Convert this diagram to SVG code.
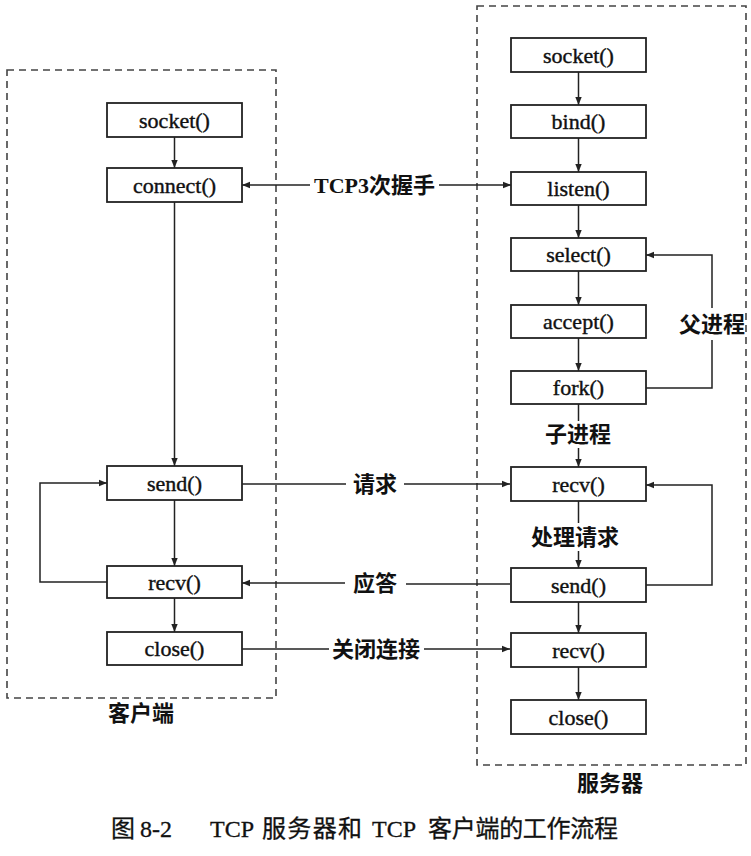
<svg xmlns="http://www.w3.org/2000/svg" width="751" height="856" viewBox="0 0 751 856">
<style>
.frame{fill:none;stroke:#444;stroke-width:1.6;stroke-dasharray:7 5}
.box{fill:#fff;stroke:#222;stroke-width:1.8}
.t{font-family:"Liberation Serif","Noto Sans CJK SC",serif;font-size:22px;fill:#111;stroke:#111;stroke-width:0.4;text-anchor:middle;dominant-baseline:central}
.lab{font-family:"Liberation Serif","Noto Sans CJK SC",serif;font-size:22px;font-weight:bold;fill:#111;text-anchor:middle;dominant-baseline:central}
.ln{fill:none;stroke:#222;stroke-width:1.5}
.arr{marker-end:url(#ah)}
.cap{font-family:"Liberation Serif","Noto Sans CJK SC",serif;font-size:24px;fill:#111;stroke:#111;stroke-width:0.3;dominant-baseline:central}
</style>
<defs>
<marker id="ah" viewBox="0 0 10 10" refX="10" refY="5" markerWidth="10" markerHeight="8" markerUnits="userSpaceOnUse" orient="auto">
<path d="M0,1 L10,5 L0,9 Z" fill="#222"/>
</marker>
</defs>

<g id="client-frame"><rect class="frame" x="7" y="70" width="269" height="628"/></g>
<g id="server-frame"><rect class="frame" x="477" y="6" width="269" height="759"/></g>

<g id="connectors">
<path class="ln arr" d="M174.5,137 V168"/>
<path class="ln arr" d="M174.5,202 V466"/>
<path class="ln arr" d="M174.5,500 V566"/>
<path class="ln arr" d="M174.5,598 V632"/>
<path class="ln arr" d="M107,582 H40 V483 H107"/>
<path class="ln arr" d="M578.5,72 V105"/>
<path class="ln arr" d="M578.5,138 V172"/>
<path class="ln arr" d="M578.5,205 V238"/>
<path class="ln arr" d="M578.5,271 V305"/>
<path class="ln arr" d="M578.5,338 V371"/>
<path class="ln" d="M578.5,404 V421"/>
<path class="ln arr" d="M578.5,448 V467"/>
<path class="ln" d="M578.5,501 V523"/>
<path class="ln arr" d="M578.5,551 V568"/>
<path class="ln arr" d="M578.5,602 V633"/>
<path class="ln arr" d="M578.5,667 V700"/>
<path class="ln" d="M646,388 H712 V340"/>
<path class="ln arr" d="M712,308 V255 H646"/>
<path class="ln arr" d="M646,585 H712 V485 H646"/>
<path class="ln arr" d="M310,185 H242"/>
<path class="ln arr" d="M439,185 H511"/>
<path class="ln" d="M242,484 H346"/>
<path class="ln arr" d="M404,484 H510"/>
<path class="ln" d="M510,584 H406"/>
<path class="ln arr" d="M345,583 H242"/>
<path class="ln" d="M242,649 H329"/>
<path class="ln arr" d="M424,649 H510"/>
</g>

<g id="c-socket"><rect class="box" x="107" y="103" width="135" height="34"/><text class="t" x="174.5" y="120">socket()</text></g>
<g id="c-connect"><rect class="box" x="107" y="168" width="135" height="34"/><text class="t" x="174.5" y="185">connect()</text></g>
<g id="c-send"><rect class="box" x="107" y="466" width="135" height="34"/><text class="t" x="174.5" y="483">send()</text></g>
<g id="c-recv"><rect class="box" x="107" y="566" width="135" height="32"/><text class="t" x="174.5" y="582">recv()</text></g>
<g id="c-close"><rect class="box" x="107" y="632" width="135" height="33"/><text class="t" x="174.5" y="648.5">close()</text></g>

<g id="s-socket"><rect class="box" x="511" y="38" width="135" height="34"/><text class="t" x="578.5" y="55">socket()</text></g>
<g id="s-bind"><rect class="box" x="511" y="105" width="135" height="33"/><text class="t" x="578.5" y="121.5">bind()</text></g>
<g id="s-listen"><rect class="box" x="511" y="172" width="135" height="33"/><text class="t" x="578.5" y="188.5">listen()</text></g>
<g id="s-select"><rect class="box" x="511" y="238" width="135" height="33"/><text class="t" x="578.5" y="254.5">select()</text></g>
<g id="s-accept"><rect class="box" x="511" y="305" width="135" height="33"/><text class="t" x="578.5" y="321.5">accept()</text></g>
<g id="s-fork"><rect class="box" x="511" y="371" width="135" height="33"/><text class="t" x="578.5" y="387.5">fork()</text></g>
<g id="s-recv"><rect class="box" x="511" y="467" width="135" height="34"/><text class="t" x="578.5" y="484">recv()</text></g>
<g id="s-send"><rect class="box" x="511" y="568" width="135" height="34"/><text class="t" x="578.5" y="585">send()</text></g>
<g id="s-recv2"><rect class="box" x="511" y="633" width="135" height="34"/><text class="t" x="578.5" y="650">recv()</text></g>
<g id="s-close"><rect class="box" x="511" y="700" width="135" height="34"/><text class="t" x="578.5" y="717">close()</text></g>

<g id="labels">
<text class="lab" x="374.5" y="185">TCP3次握手</text>
<text class="lab" x="712" y="324">父进程</text>
<text class="lab" x="578" y="434">子进程</text>
<text class="lab" x="575" y="537">处理请求</text>
<text class="lab" x="375" y="484">请求</text>
<text class="lab" x="375" y="583">应答</text>
<text class="lab" x="376" y="649">关闭连接</text>
<text class="lab" x="141" y="713">客户端</text>
<text class="lab" x="610" y="783">服务器</text>
</g>
<g id="caption">
<text class="cap" x="111" y="829">图</text>
<text class="cap" x="140" y="829">8-2</text>
<text class="cap" x="210" y="829">TCP</text>
<text class="cap" x="262" y="829" textLength="100" lengthAdjust="spacing">服务器和</text>
<text class="cap" x="372" y="829">TCP</text>
<text class="cap" x="428" y="829" textLength="190" lengthAdjust="spacing">客户端的工作流程</text>
</g>
</svg>
